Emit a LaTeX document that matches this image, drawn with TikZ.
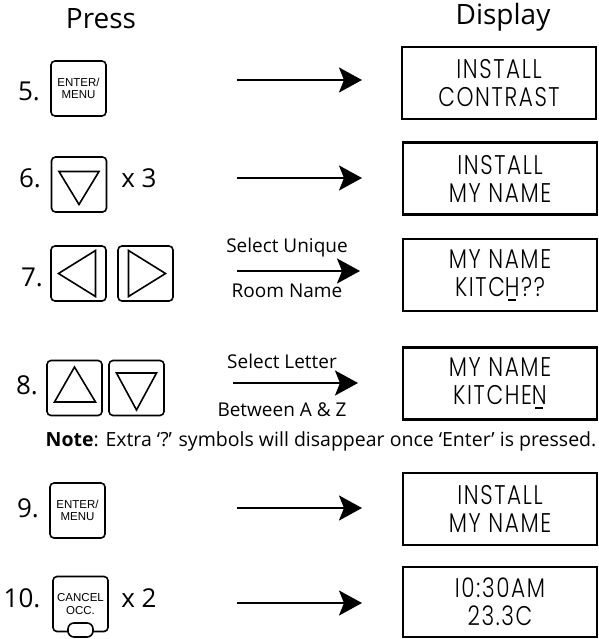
\documentclass[tikz,border=0pt]{standalone}
\usepackage{fontspec}
\setmainfont{Open Sans}
\newfontfamily\keyfont{Liberation Sans}
\IfFontExistsTF{Poppins Light}
  {\newfontfamily\lcdfont[FakeStretch=0.8,LetterSpace=6]{Poppins Light}}
  {\newfontfamily\lcdfont[FakeStretch=0.8,LetterSpace=6]{Poppins}}
\usetikzlibrary{arrows.meta}

% blinking cursor under a letter
\newcommand{\curs}[1]{\setbox0\hbox{#1}\rlap{\hbox to \wd0{\hss\rule[-4.5pt]{0.55\wd0}{2pt}\hss}}#1}

\begin{document}
\begin{tikzpicture}[x=1pt,y=-1pt,
  key/.style={draw,rounded corners=4pt,line width=1.6pt,minimum width=55pt,minimum height=55pt,inner sep=0pt,align=center,font=\keyfont\fontsize{11.5}{12.5}\selectfont},
  lcd/.style={draw,line width=2.2pt,minimum width=194pt,minimum height=72pt,inner sep=0pt,align=center,font=\lcdfont\fontsize{27}{28}\selectfont},
  num/.style={font=\fontsize{26}{26}\selectfont},
  hint/.style={font=\fontsize{19}{19}\selectfont},
  head/.style={font=\fontsize{28}{28}\selectfont},
  tri/.style={line width=1.6pt,line join=miter},
  go/.style={line width=2.4pt,-{Stealth[length=23pt,width=25pt,inset=5pt]}}
]
  \useasboundingbox (0,0) rectangle (598,639);
  \node[head] (press) at (101,19) {Press};
  \node[head] (display) at (503,17) {Display};

  % step 5
  \node[num] (n5) at (29,91) {5.};
  \node[key] (k5) at (78.5,88.5) {ENTER/\\MENU};
  \node[lcd] (d5) at (499,83) {INSTALL\\CONTRAST};
  \coordinate (s5) at (237,80);
  \coordinate (e5) at (362,80);
  \draw[go] (s5) -- (e5);

  % step 6
  \node[num] (n6) at (30,178) {6.};
  \node[key] (k6) at (79,184.5) {};
  \draw[tri] ([shift={(-20,-13)}]k6.center) -- ([shift={(20,-13)}]k6.center) -- ([shift={(0,20)}]k6.center) -- cycle;
  \node[num] (x6) at (139,178) {x 3};
  \node[lcd] (d6) at (500,178.5) {INSTALL\\MY NAME};
  \coordinate (s6) at (237,178);
  \coordinate (e6) at (362,178);
  \draw[go] (s6) -- (e6);

  % step 7
  \node[num] (n7) at (32,277) {7.};
  \node[key] (k7a) at (78.5,273.5) {};
  \node[key] (k7b) at (145.5,273.5) {};
  \draw[tri] ([shift={(-20,0)}]k7a.center) -- ([shift={(17,-23)}]k7a.center) -- ([shift={(17,23)}]k7a.center) -- cycle;
  \draw[tri] ([shift={(-17,-23)}]k7b.center) -- ([shift={(20,0)}]k7b.center) -- ([shift={(-17,23)}]k7b.center) -- cycle;
  \node[hint] (t7a) at (287,248) {Select Unique};
  \node[hint] (t7b) at (287,291) {Room Name};
  \node[lcd] (d7) at (500,275) {MY NAME\\KITC\curs{H}??};
  \coordinate (s7) at (237,271);
  \coordinate (e7) at (360,271);
  \draw[go] (s7) -- (e7);

  % step 8
  \node[num] (n8) at (27,385) {8.};
  \node[key] (k8a) at (74.5,388) {};
  \node[key] (k8b) at (136.5,388) {};
  \draw[tri] ([shift={(0,-21)}]k8a.center) -- ([shift={(21,14)}]k8a.center) -- ([shift={(-20,14)}]k8a.center) -- cycle;
  \draw[tri] ([shift={(-20,-15)}]k8b.center) -- ([shift={(20,-15)}]k8b.center) -- ([shift={(0,22)}]k8b.center) -- cycle;
  \node[hint] (t8a) at (282,361) {Select Letter};
  \node[hint] (t8b) at (282,410) {Between A \& Z};
  \node[lcd] (d8) at (500,383.5) {MY NAME\\KITCHE\curs{N}};
  \coordinate (s8) at (233,383);
  \coordinate (e8) at (358,383);
  \draw[go] (s8) -- (e8);

  \node[font=\fontsize{19.5}{20}\selectfont] (note) at (321,441) {\textbf{Note}: Extra ‘?’ symbols will disappear once ‘Enter’ is pressed.};

  % step 9
  \node[num] (n9) at (28,508) {9.};
  \node[key] (k9) at (77.5,510.5) {ENTER/\\MENU};
  \node[lcd] (d9) at (500,509) {INSTALL\\MY NAME};
  \coordinate (s9) at (237,508);
  \coordinate (e9) at (362,508);
  \draw[go] (s9) -- (e9);

  % step 10
  \node[num] (n10) at (22,598) {10.};
  \node[key] (k10) at (80.5,604) {CANCEL\\OCC.};
  \node[draw,fill=white,line width=1.6pt,rounded corners=6pt,minimum width=25pt,minimum height=14pt,inner sep=0pt] (slot) at (80.5,630) {};
  \node[num] (x10) at (139,598) {x 2};
  \node[lcd,minimum height=70pt] (d10) at (500,602) {I0:30AM\\23.3C};
  \coordinate (s10) at (237,603);
  \coordinate (e10) at (362,603);
  \draw[go] (s10) -- (e10);
\end{tikzpicture}
\end{document}
